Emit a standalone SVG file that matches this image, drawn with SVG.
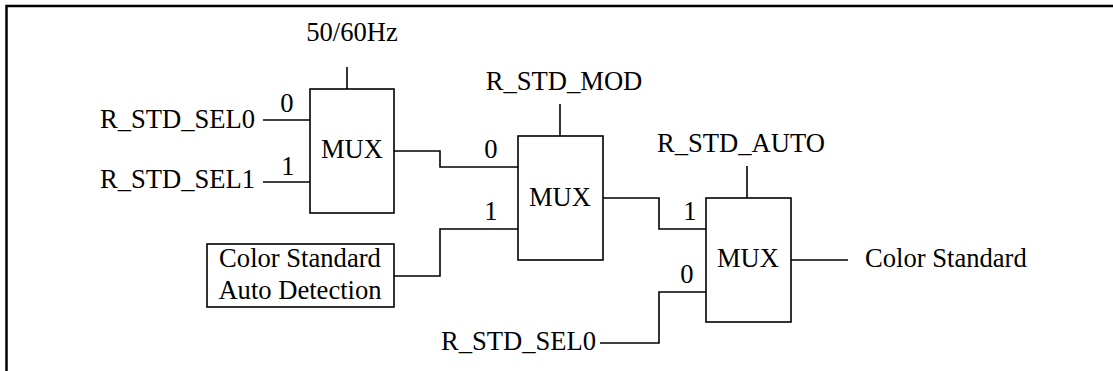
<svg xmlns="http://www.w3.org/2000/svg" width="1113" height="371" viewBox="0 0 1113 371">
<style>
text{font-family:"Liberation Serif","Times New Roman",serif;font-size:26.6px;fill:#000}
.m{text-anchor:middle}
.box{fill:#fff;stroke:#000;stroke-width:1.6}
.w{fill:none;stroke:#000;stroke-width:1.6}
.frame{fill:none;stroke:#000;stroke-width:2.5}
</style>
<rect width="1113" height="371" fill="#fff"/>
<path class="frame" d="M6.5,371 V6 H1113"/>
<g id="connectors">
<path class="w" d="M263,120 H310"/>
<path class="w" d="M263,182 H310"/>
<path class="w" d="M347,67 V89"/>
<path class="w" d="M394,151 H440 V167 H518"/>
<path class="w" d="M394,276 H440 V229 H518"/>
<path class="w" d="M560,104 V136"/>
<path class="w" d="M603,198 H659 V229 H706"/>
<path class="w" d="M600,343 H659 V292 H706"/>
<path class="w" d="M747,166 V198"/>
<path class="w" d="M791,260 H848"/>
</g>
<g id="in_sel0"><text x="100" y="128">R_STD_SEL0</text></g>
<g id="in_sel1"><text x="100" y="188">R_STD_SEL1</text></g>
<g id="hz"><text class="m" x="352" y="41">50/60Hz</text></g>
<g id="mux1">
<rect class="box" x="310" y="89" width="84" height="124"/>
<text class="m" x="352" y="158">MUX</text>
<text class="m" x="287" y="112">0</text>
<text class="m" x="288" y="175">1</text>
</g>
<g id="mod"><text class="m" x="564" y="90">R_STD_MOD</text></g>
<g id="mux2">
<rect class="box" x="518" y="136" width="85" height="124"/>
<text class="m" x="560" y="206">MUX</text>
<text class="m" x="491" y="158">0</text>
<text class="m" x="491" y="220">1</text>
</g>
<g id="detect">
<rect class="box" x="207" y="244" width="187" height="63"/>
<text class="m" x="300" y="267">Color Standard</text>
<text class="m" x="300" y="299">Auto Detection</text>
</g>
<g id="auto"><text class="m" x="741" y="152">R_STD_AUTO</text></g>
<g id="mux3">
<rect class="box" x="706" y="198" width="85" height="124"/>
<text class="m" x="748" y="267">MUX</text>
<text class="m" x="690" y="220">1</text>
<text class="m" x="687" y="283">0</text>
</g>
<g id="in_sel0b"><text x="441" y="350">R_STD_SEL0</text></g>
<g id="out"><text x="865" y="267">Color Standard</text></g>
</svg>
